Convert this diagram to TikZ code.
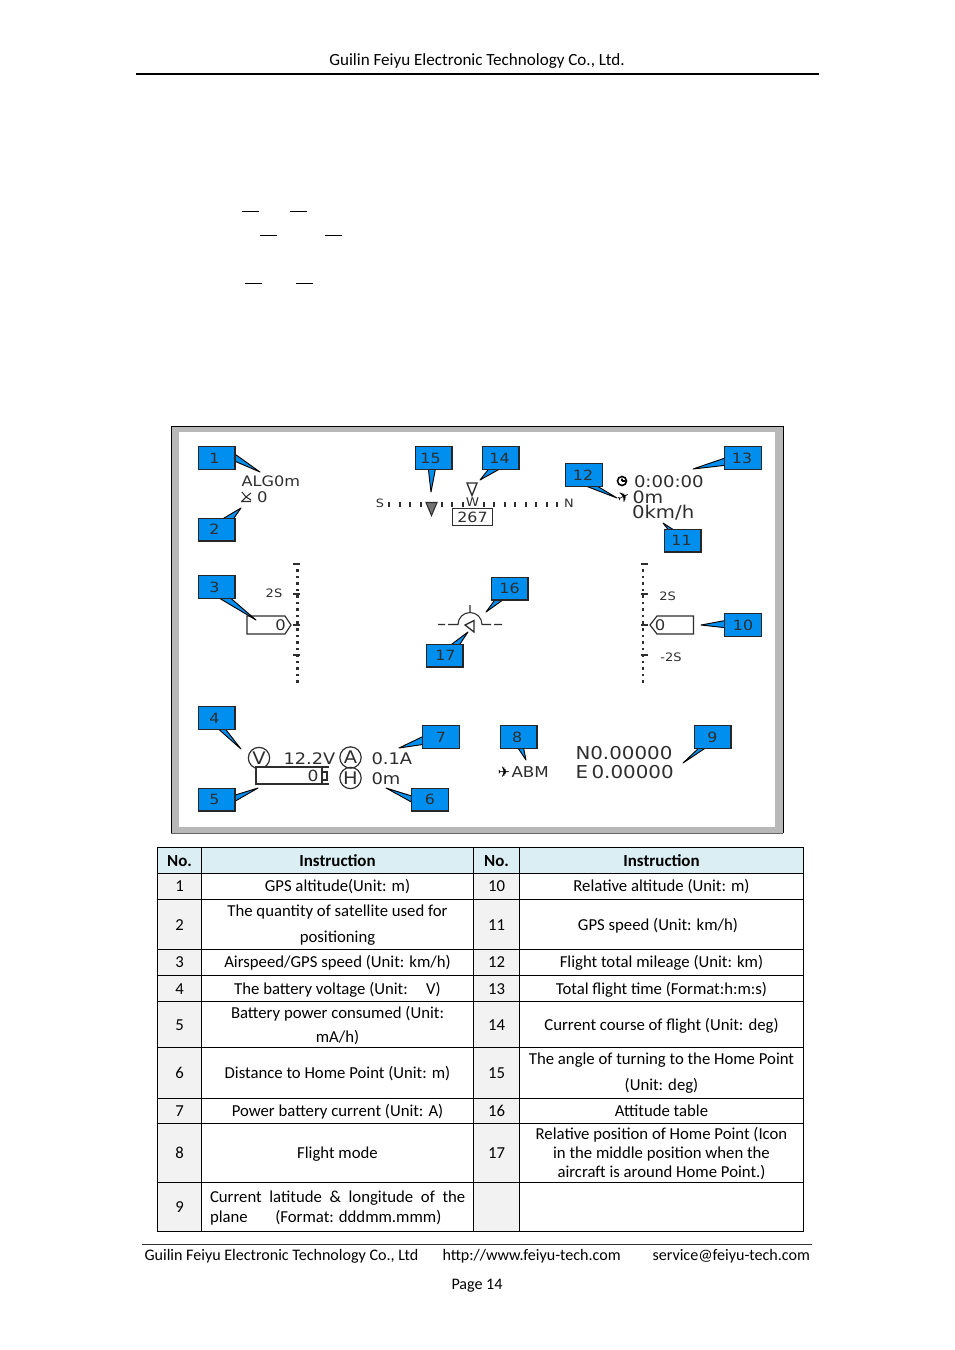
\documentclass[tikz,border=0pt]{standalone}
\usepackage{fontspec}
\setmainfont{Carlito}
\newfontfamily\hud[FakeStretch=1.12]{DejaVu Sans}
\newfontfamily\hudicon{DejaVu Sans}
\definecolor{calloutblue}{HTML}{008FEE}
\definecolor{headfill}{HTML}{DAEEF3}
\definecolor{nofill}{HTML}{F2F2F2}
\definecolor{hudgray}{HTML}{B8B8B8}
\definecolor{hudtext}{HTML}{2E2E2E}
\newcounter{cellno}
\tikzset{
  px/.style={x=0.75pt,y=-0.75pt},
  body/.style={inner sep=0pt,outer sep=0pt,anchor=base,text=black,yshift=-0.6pt,font=\fontsize{12.55}{14}\selectfont},
  bodyl/.style={body,anchor=base west},
  grid/.style={draw=black,line width=0.75pt},
  callbox/.style={draw=black!85,line width=1pt,fill=calloutblue,minimum width=27.5pt,minimum height=17pt,inner sep=0pt,font=\hud\fontsize{10.6}{10.6}\selectfont,text=hudtext},
  calltail/.style={draw=black,line width=0.7pt,fill=calloutblue,line join=round},
  hudl/.style={inner sep=0pt,outer sep=0pt,anchor=west,text=hudtext,font=\hud\fontsize{#1}{#1}\selectfont},
  hudc/.style={inner sep=0pt,outer sep=0pt,anchor=center,text=hudtext,font=\hud\fontsize{#1}{#1}\selectfont},
  iconc/.style={inner sep=0pt,outer sep=0pt,anchor=center,text=black,font=\hudicon\fontsize{#1}{#1}\selectfont},
  hudline/.style={draw=hudtext,line width=0.8pt},
  tick/.style={draw=hudtext,line width=1.5pt},
}
% name, centre x, centre y, base1, base2, tip
\newcommand{\callout}[9]{%
  \coordinate (#1tip) at (#8,#9);
  \draw[calltail] (#4,#5) -- (#1tip) -- (#6,#7) -- cycle;
  \node[callbox] (#1) at (#2,#3) {\CallLabel};
}
\newcommand{\cellat}[3]{\stepcounter{cellno}\node[body] (cell\arabic{cellno}) at (#1,#2) {#3};}
\begin{document}
\begin{tikzpicture}[px]
\useasboundingbox[fill=white] (0,0) rectangle (954,1350);
% page header
\node[body,font=\fontsize{12.8}{14}\selectfont] (hdr) at (477,64.5) {Guilin Feiyu Electronic Technology Co., Ltd.};
\draw[black,line width=1.5pt] (136,74) -- (819,74);
% short dashes
\foreach \a/\b/\c in {242/259/211,290/307/211,260/277/235,325/342/235,245/262/283,296/313/283}
  \draw[black,line width=0.7pt] (\a,\c) -- (\b,\c);
% HUD frame
\fill[hudgray] (171,426) rectangle (783,833);
\fill[white] (179,432) rectangle (775,827);
\draw[black,line width=0.6pt] (783,833) -- (783,426) -- (171,426) -- (171,833);
\draw[black!60,line width=0.6pt] (171,833) -- (783,833);
% top-left readouts
\node[hudl=10.8] (alg) at (241.5,481.5) {ALG0m};
\node[hudl=11] (sat) at (257,497) {0};
\draw[hudline] (242,492) -- (246,497) -- (251,493) (246,497) -- (242,501) (241,501.5) -- (251,501.5) (246,497) -- (251,500);
% compass
\node[hudc=8.6] (south) at (380,503) {S};
\node[hudc=8.6] (north) at (569,503) {N};
\node[hudc=9] (west) at (472.5,502.5) {W};
\foreach \k in {0,1,2,3,5,6,7,9,10,11,12,13,14,15,16}
  \draw[tick] ({389+10.5*\k},502) -- ({389+10.5*\k},507);
\draw[draw=hudtext,fill=black!55,line width=0.8pt] (426,502.5) -- (437,502.5) -- (431.5,515.5) -- cycle;
\draw[draw=hudtext,fill=white,line width=1pt] (467,483) -- (477,483) -- (472,495.5) -- cycle;
\node[draw=hudtext,line width=0.9pt,fill=white,minimum width=30.5pt,minimum height=13pt,inner sep=0pt,text=hudtext,font=\hud\fontsize{10.6}{10.6}\selectfont] (course) at (472.5,517) {267};
% top-right readouts
\draw[black,line width=1.2pt] (622,481) circle (4.5) (622,481) -- (622,478.5) (622,481) -- (625,481);
\node[hudl=12.1] (timer) at (634,481.5) {0:00:00};
\node[iconc=11,rotate=25] (trip) at (623.5,497) {✈};
\node[hudl=12.8] (dist) at (632.5,497.5) {0m};
\node[hudl=13.2] (speed) at (632,512.5) {0km/h};
% left tape
\foreach \i in {0,...,17} \fill[hudtext] (296.3,{569+\i*6.55}) rectangle (298.9,{571.6+\i*6.55});
\foreach \y in {564,594,625,655} \draw[tick] (293,\y) -- (299.5,\y);
\node[hudc=8.7] (lscale) at (274,593) {2S};
\draw[draw=hudtext,fill=white,line width=0.9pt] (247,616) -- (285,616) -- (291,625) -- (285,634) -- (247,634) -- cycle;
\node[hudc=11] (lval) at (280.5,625.5) {0};
% right tape
\foreach \i in {0,...,17} \fill[hudtext] (641.7,{569+\i*6.55}) rectangle (644.3,{571.6+\i*6.55});
\foreach \y in {564,594,625,655} \draw[tick] (641,\y) -- (647.5,\y);
\node[hudc=8.7] (rscale) at (667.5,596.5) {2S};
\node[hudc=8.7] (rscalem) at (671,657) {-2S};
\draw[draw=hudtext,fill=white,line width=0.9pt] (693.5,616) -- (657,616) -- (650,625) -- (657,634) -- (693.5,634) -- cycle;
\node[hudc=11] (rval) at (660,625.5) {0};
% attitude symbol
\draw[hudline] (438,624.5) -- (445,624.5) (448,624.5) -- (458,624.5)
  arc[start angle=180,end angle=360,radius=12] -- (491,624.5)
  (494,624.5) -- (502,624.5)
  (470,605) -- (470,612.5);
\draw[draw=hudtext,fill=white,line width=1pt] (465,625) -- (474,620.5) -- (474,632) -- cycle;
% bottom-left readouts
\foreach \n/\cx/\cy/\t in {cv/259/758/V,ca/350.5/757.5/A,ch/350.5/778/H}
  \node[circle,draw=hudtext,line width=0.9pt,minimum size=16pt,inner sep=0pt,text=hudtext,font=\hud\fontsize{13}{13}\selectfont] (\n) at (\cx,\cy) {\t};
\node[hudl=11.9] (volt) at (283.5,758.5) {12.2V};
\node[hudl=12] (amp) at (371.5,758.5) {0.1A};
\node[hudl=12] (home) at (371.5,778.5) {0m};
\draw[draw=hudtext,fill=white,line width=0.9pt] (256,767) rectangle (322,784);
\draw[hudline] (322,767) -- (329,767) (322,784) -- (329,784);
\draw[hudline] (322,772) rectangle (327,780);
\node[hudc=11.5] (batt) at (313,776) {0};
% flight mode, coordinates
\node[iconc=11] (modeicon) at (504,772) {✈};
\node[hudl=11.2] (mode) at (511.5,772) {ABM};
\node[hudl=13.3] (lat) at (575.5,753.5) {N0.00000};
\node[hudl=13.3] (lon) at (575.5,772.5) {E\kern0.2em 0.00000};
% callouts
\newcommand{\CallLabel}{\hspace*{-3pt}1}\callout{k1}{216.5}{458}{232}{452}{232}{460}{260}{472}
\renewcommand{\CallLabel}{\hspace*{-3pt}2}\callout{k2}{216.5}{529.5}{219}{521}{232}{521}{241}{508}
\renewcommand{\CallLabel}{\hspace*{-3pt}3}\callout{k3}{216.5}{587}{214}{595}{227}{595}{256}{620}
\renewcommand{\CallLabel}{\hspace*{-3pt}4}\callout{k4}{216.5}{718}{215}{726}{223}{726}{241}{749}
\renewcommand{\CallLabel}{\hspace*{-3pt}5}\callout{k5}{216.5}{799.5}{232}{796}{232}{803}{258}{788}
\renewcommand{\CallLabel}{6}\callout{k6}{430}{799.5}{415}{797}{415}{804}{386}{788}
\renewcommand{\CallLabel}{7}\callout{k7}{441}{737}{426}{735}{426}{744}{399}{748}
\renewcommand{\CallLabel}{\hspace*{-2pt}8}\callout{k8}{518.5}{737}{516}{745}{523}{745}{526}{760}
\renewcommand{\CallLabel}{9}\callout{k9}{712.5}{737}{702}{745}{710}{745}{683}{763}
\renewcommand{\CallLabel}{10}\callout{k10}{743}{625}{728}{620}{728}{628}{701}{625}
\renewcommand{\CallLabel}{\hspace*{-1.5pt}11}\callout{k11}{682.5}{540.5}{670}{532}{677}{532}{663}{523}
\renewcommand{\CallLabel}{\hspace*{-1.5pt}12}\callout{k12}{584}{475}{578}{483}{592}{483}{617}{498}
\renewcommand{\CallLabel}{\hspace*{-1.5pt}13}\callout{k13}{743}{458}{728}{457}{728}{465}{693}{469}
\renewcommand{\CallLabel}{\hspace*{-1.5pt}14}\callout{k14}{500.5}{458}{491}{466}{505}{466}{480}{480}
\renewcommand{\CallLabel}{\hspace*{-4.5pt}15}\callout{k15}{433.5}{458}{428}{466}{436}{466}{431}{492}
\renewcommand{\CallLabel}{16}\callout{k16}{509.5}{588.5}{497}{597}{507}{597}{486}{612}
\renewcommand{\CallLabel}{\hspace*{1.5pt}17}\callout{k17}{444.5}{655.5}{448}{647}{458}{647}{468}{632}
% table fills
\fill[headfill] (157.5,847.5) rectangle (803.5,873.5);
\fill[nofill] (157.5,873.5) rectangle (201.5,1231.5);
\fill[nofill] (473.5,873.5) rectangle (519.5,1231.5);
% table grid
\draw[grid] (157.5,847.5) rectangle (803.5,1231.5);
\foreach \x in {201.5,473.5,519.5} \draw[grid] (\x,847.5) -- (\x,1231.5);
\foreach \y in {873.5,899.5,949.5,975.5,1001.5,1047.5,1098.5,1123.5,1182.5} \draw[grid] (157.5,\y) -- (803.5,\y);
% table text
\foreach \x/\t in {179.5/No.,337.5/Instruction,496.5/No.,661.5/Instruction}
  {\node[body,font=\fontsize{12.7}{14}\selectfont\bfseries] (head\x) at (\x,865.5) {\t};}
\cellat{179.5}{890.5}{1}\cellat{337.5}{890.5}{GPS altitude(Unit: m)}
\cellat{496.5}{890.5}{10}\cellat{661.5}{890.5}{Relative altitude (Unit: m)}
\cellat{179.5}{929.5}{2}\cellat{337.5}{916}{The quantity of satellite used for}\cellat{337.5}{941.5}{positioning}
\cellat{496.5}{929.5}{11}\cellat{658}{929.5}{GPS speed (Unit: km/h)}
\cellat{179.5}{967}{3}\cellat{337.5}{967}{Airspeed/GPS speed (Unit: km/h)}
\cellat{496.5}{967}{12}\cellat{661.5}{967}{Flight total mileage (Unit: km)}
\cellat{179.5}{993.5}{4}\cellat{337.5}{993.5}{The battery voltage (Unit:\hspace{1.1em}V)}
\cellat{496.5}{993.5}{13}\cellat{661.5}{993.5}{Total flight time (Format:h:m:s)}
\cellat{179.5}{1029.5}{5}\cellat{337.5}{1018}{Battery power consumed (Unit:}\cellat{337.5}{1042}{mA/h)}
\cellat{496.5}{1029.5}{14}\cellat{661.5}{1029.5}{Current course of flight (Unit: deg)}
\cellat{179.5}{1077.5}{6}\cellat{337.5}{1077.5}{Distance to Home Point (Unit: m)}
\cellat{496.5}{1077.5}{15}\cellat{661.5}{1064}{The angle of turning to the Home Point}\cellat{661.5}{1089.5}{(Unit: deg)}
\cellat{179.5}{1115.5}{7}\cellat{337.5}{1115.5}{Power battery current (Unit: A)}
\cellat{496.5}{1115.5}{16}\cellat{661.5}{1115.5}{Attitude table}
\cellat{179.5}{1157.5}{8}\cellat{337.5}{1157.5}{Flight mode}
\cellat{496.5}{1157.5}{17}\cellat{661.5}{1138.5}{Relative position of Home Point (Icon}\cellat{661.5}{1157.5}{in the middle position when the}\cellat{661.5}{1176.5}{aircraft is around Home Point.)}
\cellat{179.5}{1211.5}{9}
\node[bodyl] (c9a) at (210,1201.5) {\hbox to 191.5pt{Current\hfill latitude\hfill \&\hfill longitude\hfill of\hfill the}};
\node[bodyl] (c9b) at (210,1221.5) {plane\hspace{1.65em}(Format: dddmm.mmm)};
% footer
\draw[black!80,line width=0.6pt] (142,1244.5) -- (812,1244.5);
\node[bodyl,font=\fontsize{12.05}{14}\selectfont] (f1) at (144.5,1259.8) {Guilin Feiyu Electronic Technology Co., Ltd};
\node[bodyl,font=\fontsize{12.05}{14}\selectfont] (f2) at (442.5,1259.8) {http://www.feiyu-tech.com};
\node[bodyl,font=\fontsize{12.05}{14}\selectfont] (f3) at (652.5,1259.8) {service@feiyu-tech.com};
\node[body,font=\fontsize{12.05}{14}\selectfont] (pg) at (477,1288.8) {Page 14};
\end{tikzpicture}
\end{document}
